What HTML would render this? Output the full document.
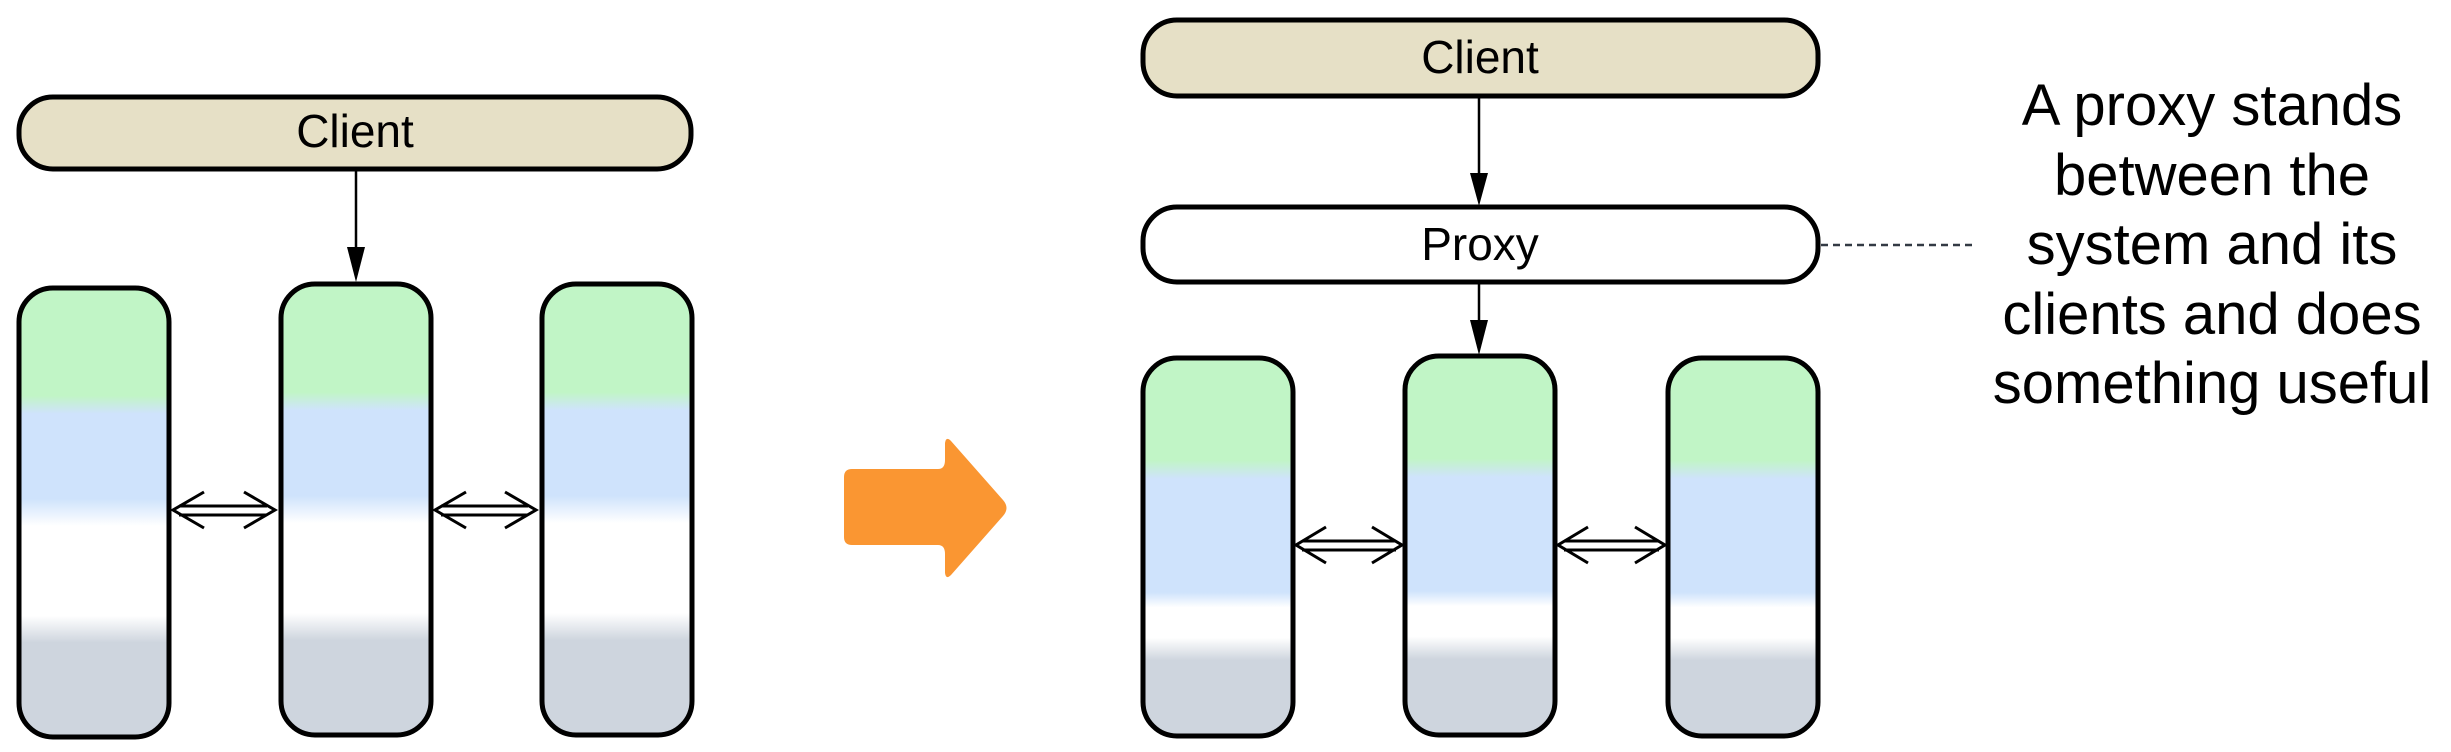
<!DOCTYPE html>
<html><head><style>html,body{margin:0;padding:0;background:#fff;}svg{display:block}</style></head>
<body>
<svg width="2451" height="752" viewBox="0 0 2451 752" xmlns="http://www.w3.org/2000/svg">
<defs>
<linearGradient id="gl" x1="0" y1="0" x2="0" y2="1">
<stop offset="0" stop-color="#c1f5c6"/><stop offset="0.24" stop-color="#c1f5c6"/>
<stop offset="0.28" stop-color="#cfe3fc"/><stop offset="0.47" stop-color="#cfe3fc"/>
<stop offset="0.53" stop-color="#ffffff"/><stop offset="0.73" stop-color="#ffffff"/>
<stop offset="0.79" stop-color="#ced5de"/><stop offset="1" stop-color="#ced5de"/>
</linearGradient>
<linearGradient id="gr" x1="0" y1="0" x2="0" y2="1">
<stop offset="0" stop-color="#c1f5c6"/><stop offset="0.27" stop-color="#c1f5c6"/>
<stop offset="0.32" stop-color="#cfe3fc"/><stop offset="0.62" stop-color="#cfe3fc"/>
<stop offset="0.66" stop-color="#ffffff"/><stop offset="0.74" stop-color="#ffffff"/>
<stop offset="0.80" stop-color="#ced5de"/><stop offset="1" stop-color="#ced5de"/>
</linearGradient>
</defs>
<g font-family="Liberation Sans, sans-serif" fill="#000">
<!-- LEFT -->
<rect x="19" y="97" width="672" height="72" rx="34" fill="#e6e0c6" stroke="#000" stroke-width="5"/>
<text x="355" y="147" font-size="46" text-anchor="middle">Client</text>
<line x1="356" y1="169" x2="356" y2="248" stroke="#000" stroke-width="2.5"/>
<polygon points="347,247 365,247 356,282"/>
<rect x="19" y="288" width="150" height="449" rx="34" fill="url(#gl)" stroke="#000" stroke-width="5"/>
<rect x="281" y="284" width="150" height="451" rx="34" fill="url(#gl)" stroke="#000" stroke-width="5"/>
<rect x="542" y="284" width="150" height="451" rx="34" fill="url(#gl)" stroke="#000" stroke-width="5"/>
<g stroke="#000" stroke-width="3" fill="none">
<path d="M179,506 H267 M179,515 H267 M204,492 L173,510 L204,528 M244,492 L275,510 L244,528"/>
<path d="M441,506 H528 M441,515 H528 M466,492 L435,510 L466,528 M505,492 L536,510 L505,528"/>
</g>
<!-- orange arrow -->
<path d="M852,469 H938 Q945,469 945,460 V443 Q946,436 951,441 L1003,500 Q1010,508 1003,516 L951,575 Q946,580 945,573 V554 Q945,545 938,545 H852 Q844,545 844,537 V477 Q844,469 852,469 Z" fill="#fa9632"/>
<!-- RIGHT -->
<rect x="1143" y="20" width="675" height="76" rx="34" fill="#e6e0c6" stroke="#000" stroke-width="5"/>
<text x="1480" y="73" font-size="46" text-anchor="middle">Client</text>
<line x1="1479" y1="96" x2="1479" y2="174" stroke="#000" stroke-width="2.5"/>
<polygon points="1470,173 1488,173 1479,206"/>
<rect x="1143" y="207" width="675" height="75" rx="34" fill="#fff" stroke="#000" stroke-width="5"/>
<text x="1480" y="260" font-size="46" text-anchor="middle">Proxy</text>
<line x1="1479" y1="282" x2="1479" y2="321" stroke="#000" stroke-width="2.5"/>
<polygon points="1470,320 1488,320 1479,355"/>
<line x1="1821" y1="245" x2="1972" y2="245" stroke="#333a44" stroke-width="2.5" stroke-dasharray="7,5"/>
<rect x="1143" y="358" width="150" height="378" rx="34" fill="url(#gr)" stroke="#000" stroke-width="5"/>
<rect x="1405" y="356" width="150" height="379" rx="34" fill="url(#gr)" stroke="#000" stroke-width="5"/>
<rect x="1668" y="358" width="150" height="378" rx="34" fill="url(#gr)" stroke="#000" stroke-width="5"/>
<g stroke="#000" stroke-width="3" fill="none">
<path d="M1302,541 H1396 M1302,550 H1396 M1326,527 L1296,545 L1326,563 M1372,527 L1402,545 L1372,563"/>
<path d="M1564,541 H1659 M1564,550 H1659 M1588,527 L1558,545 L1588,563 M1635,527 L1665,545 L1635,563"/>
</g>
<g font-size="58" text-anchor="middle">
<text x="2212" y="125">A proxy stands</text>
<text x="2212" y="195">between the</text>
<text x="2212" y="264">system and its</text>
<text x="2212" y="334">clients and does</text>
<text x="2212" y="403">something useful</text>
</g>
</g>
</svg>
</body></html>
